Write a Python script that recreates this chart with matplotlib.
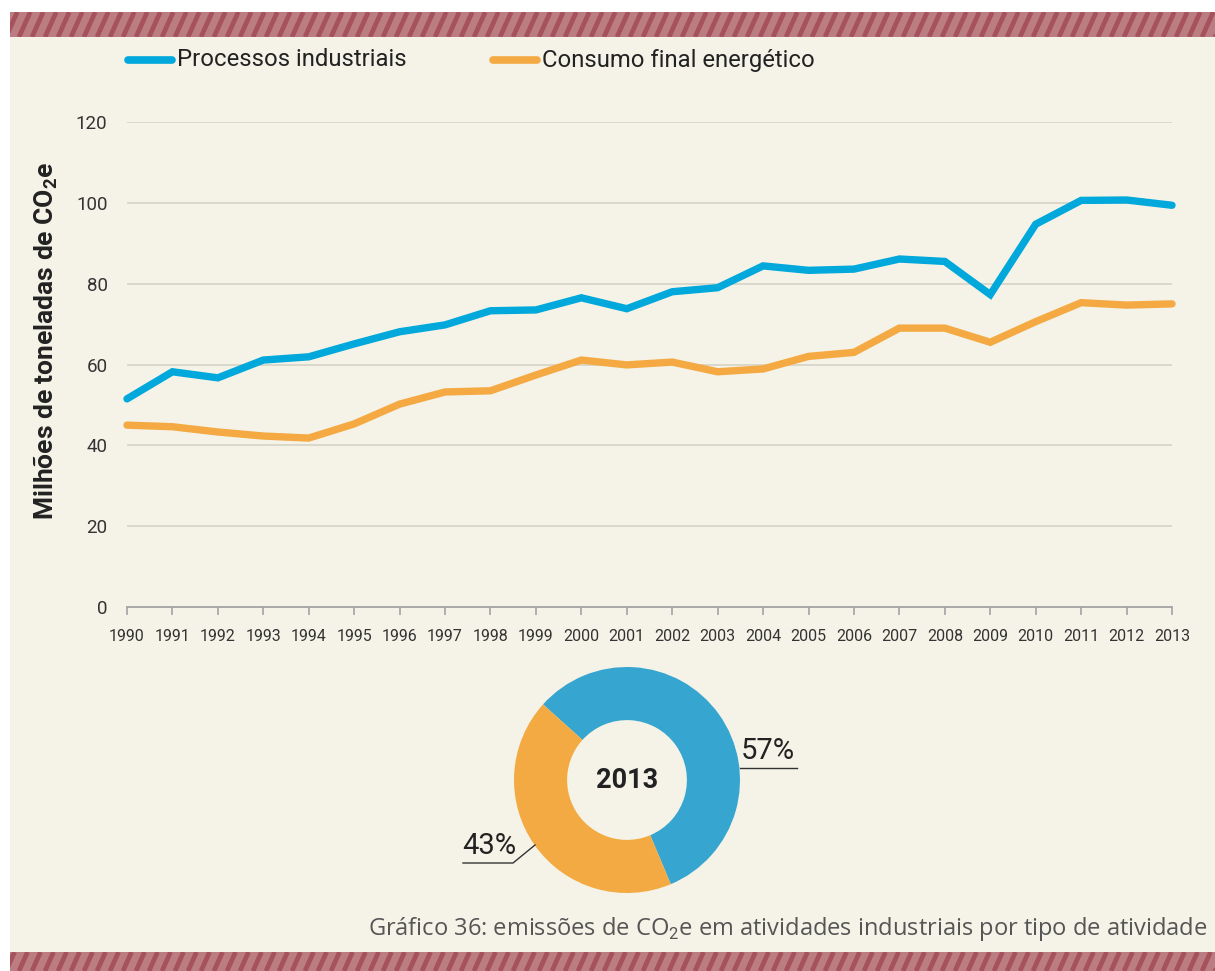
import matplotlib
matplotlib.use('Agg')
import matplotlib.pyplot as plt
from matplotlib.lines import Line2D
from matplotlib.patches import Rectangle

plt.rcParams['font.family'] = ['Roboto', 'DejaVu Sans']
plt.rcParams['mathtext.fontset'] = 'custom'
plt.rcParams['mathtext.rm'] = 'Roboto'
plt.rcParams['mathtext.bf'] = 'Roboto:bold'

# emissions, Mt CO2e
years = list(range(1990, 2014))
processos = [51.5, 58.2, 56.7, 61.1, 61.9, 65.1, 68.1, 69.8, 73.3, 73.5, 76.5, 73.8,
             78.0, 79.0, 84.4, 83.3, 83.6, 86.1, 85.5, 77.3, 94.7, 100.6, 100.7, 99.4]
consumo = [45.0, 44.6, 43.3, 42.3, 41.8, 45.3, 50.2, 53.2, 53.5, 57.4, 61.1, 59.9,
           60.6, 58.2, 58.9, 62.0, 63.0, 69.0, 69.0, 65.5, 70.6, 75.3, 74.7, 75.0]
series_names = ['Processos industriais', 'Consumo final energético']
yticks = [0, 20, 40, 60, 80, 100, 120]

# 2013 shares
share_year = '2013'
shares = [57, 43]
share_labels = ['57%', '43%']

W, H = 1215, 971
BG = '#f5f3e7'
BLUE = '#00a8dc'
ORANGE = '#f4a942'
PIE_BLUE = '#36a5cf'
PIE_ORANGE = '#f3aa42'


def fx(x):
    return x / W


def fy(y):
    return 1 - y / H


fig = plt.figure(figsize=(W / 100, H / 100), dpi=100, facecolor='white')

# cream panel
fig.add_artist(Rectangle((fx(10), 0), 1 - fx(10), fy(37), transform=fig.transFigure,
                         facecolor=BG, edgecolor='none', zorder=0))


# striped bands top and bottom
def band(y0, y1):
    bx = fig.add_axes([fx(10), fy(y1), 1 - fx(10), (y1 - y0) / H])
    h = y1 - y0
    bx.set_xlim(0, W - 10)
    bx.set_ylim(0, h)
    for x in range(-30, W + 10, 13):
        bx.plot([x, x + h * 0.45], [0, h], color='#a6525c', lw=3.4, solid_capstyle='butt')
    bx.set_axis_off()
    bx.add_patch(Rectangle((0, 0), W, h, facecolor='#bb7d82', edgecolor='none', zorder=0))


band(12, 37)
band(952, 971)

# line chart
ax = fig.add_axes([fx(127), fy(607), (1172 - 127) / W, (607 - 122) / H])
ax.set_facecolor('none')
ax.plot(years, processos, color=BLUE, lw=5.3, solid_capstyle='round',
        solid_joinstyle='miter', clip_on=False, zorder=3)
ax.plot(years, consumo, color=ORANGE, lw=5.3, solid_capstyle='round',
        solid_joinstyle='miter', clip_on=False, zorder=3)
ax.set_xlim(1990, 2013)
ax.set_ylim(0, 120)
ax.set_xticks(years)
ax.set_xticklabels([str(y) for y in years])
ax.set_yticks(yticks)
for v in yticks[1:]:
    ax.axhline(v, color='#d8d4c8', lw=1.3, zorder=1)
for s in ['top', 'right', 'left']:
    ax.spines[s].set_visible(False)
ax.spines['bottom'].set_color('#a3a3a3')
ax.spines['bottom'].set_linewidth(1.3)
ax.tick_params(axis='x', length=6, width=1.2, color='#a3a3a3', pad=10,
               labelsize=11.5, labelcolor='#333333')
ax.tick_params(axis='y', length=0, pad=14, labelsize=13.5, labelcolor='#333333')
ax.set_ylabel(r'Milhões de toneladas de CO$_\mathbf{2}$e', fontsize=19,
              fontweight='bold', color='#222222')
ax.yaxis.set_label_coords(-0.064, 0.55)

# legend
for (x0, color, name) in [(128, BLUE, series_names[0]), (493, ORANGE, series_names[1])]:
    fig.add_artist(Line2D([fx(x0), fx(x0 + 44)], [fy(60), fy(60)], transform=fig.transFigure,
                          color=color, lw=5.5, solid_capstyle='round'))
    fig.text(fx(x0 + 49), fy(60), name, fontsize=17.2, color='#222222',
             ha='left', va='center')

# donut
ax2 = fig.add_axes([fx(514), fy(893), 226 / W, 226 / H])
ax2.pie(shares, colors=[PIE_BLUE, PIE_ORANGE], startangle=138, counterclock=False,
        radius=1, wedgeprops=dict(width=0.47, edgecolor='none'))
ax2.set_xlim(-1, 1)
ax2.set_ylim(-1, 1)
ax2.set_aspect('equal')
ax2.set_axis_off()
ax2.text(0, 0, share_year, ha='center', va='center', fontsize=19.5,
         fontweight='bold', color='#222222')

fig.add_artist(Line2D([fx(740), fx(797)], [fy(768), fy(768)], transform=fig.transFigure,
                      color='#333333', lw=1))
fig.text(fx(741), fy(765), share_labels[0], fontsize=21, color='#222222',
         ha='left', va='bottom')
fig.add_artist(Line2D([fx(463), fx(513), fx(535)], [fy(863), fy(863), fy(845)],
                      transform=fig.transFigure, color='#333333', lw=1))
fig.text(fx(462), fy(860), share_labels[1], fontsize=21, color='#222222',
         ha='left', va='bottom')

# caption
fig.text(fx(1208), fy(929),
         r'Gráfico 36: emissões de CO$_2$e em atividades industriais por tipo de atividade',
         family=['Open Sans', 'DejaVu Sans'], fontsize=17, color='#555555',
         ha='right', va='center')

fig.savefig('out.png', dpi=100, facecolor='white')
